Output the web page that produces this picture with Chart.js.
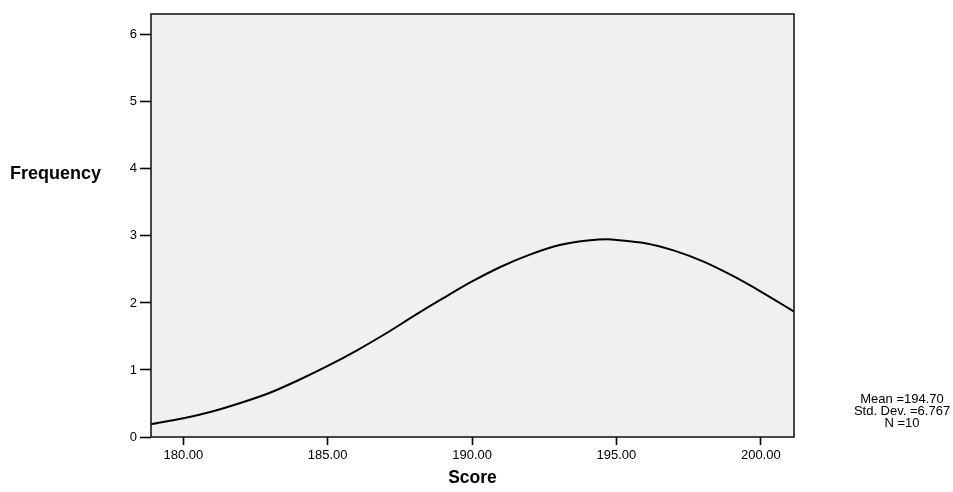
<!DOCTYPE html>
<html>
<head>
<meta charset="utf-8">
<script src="https://cdn.jsdelivr.net/npm/chart.js@4.4.1/dist/chart.umd.min.js"></script>
<style>
  html, body { margin: 0; padding: 0; background: #fff; }
  #wrap { width: 953px; height: 492px; }
</style>
</head>
<body>
<div id="wrap"><canvas id="chart"></canvas></div>
<script>
// normal curve (score -> frequency)
const scores = [178.88, 180, 181, 182, 183, 184, 185, 186, 187, 188, 189, 190,
  191, 192, 193, 194, 194.7, 195, 196, 197, 198, 199, 200, 201, 201.15];
const frequency = [0.19, 0.28, 0.38, 0.51, 0.66, 0.85, 1.06, 1.29, 1.54, 1.81, 2.07, 2.32,
  2.54, 2.72, 2.86, 2.93, 2.95, 2.94, 2.89, 2.78, 2.62, 2.41, 2.17, 1.91, 1.87];

const xTicks = [180, 185, 190, 195, 200];
const yTicks = [0, 1, 2, 3, 4, 5, 6];
const statLines = ['Mean =194.70', 'Std. Dev. =6.767', 'N =10'];

const FONT = '"Liberation Sans", Arial, sans-serif';

const framePlugin = {
  id: 'frame',
  beforeDraw(chart) {
    const { ctx, chartArea: a } = chart;
    ctx.save();
    ctx.fillStyle = '#f0f0f0';
    ctx.fillRect(a.left, a.top, a.right - a.left, a.bottom - a.top);
    ctx.restore();
  },
  afterDraw(chart) {
    const { ctx, chartArea: a } = chart;
    ctx.save();
    ctx.strokeStyle = '#1a1a1a';
    ctx.lineWidth = 1.6;
    ctx.strokeRect(a.left, a.top, a.right - a.left, a.bottom - a.top);

    ctx.fillStyle = '#000';
    ctx.font = 'bold 18px ' + FONT;
    ctx.textAlign = 'left';
    ctx.textBaseline = 'alphabetic';
    ctx.fillText('Frequency', 10, 179);

    ctx.font = '13px ' + FONT;
    ctx.textAlign = 'center';
    statLines.forEach((t, i) => ctx.fillText(t, 902, 403 + i * 12));
    ctx.restore();
  }
};

new Chart(document.getElementById('chart'), {
  type: 'line',
  data: {
    datasets: [{
      data: scores.map((s, i) => ({ x: s, y: frequency[i] })),
      borderColor: '#000',
      borderWidth: 2,
      pointRadius: 0,
      fill: false,
      cubicInterpolationMode: 'monotone'
    }]
  },
  options: {
    responsive: true,
    maintainAspectRatio: false,
    animation: false,
    layout: { padding: { top: 14, right: 159, left: 0, bottom: 0 } },
    plugins: { legend: { display: false }, tooltip: { enabled: false } },
    scales: {
      x: {
        type: 'linear',
        min: 178.88,
        max: 201.15,
        afterBuildTicks: s => { s.ticks = xTicks.map(v => ({ value: v })); },
        afterFit: s => { s.height = 55; },
        border: { display: false },
        grid: { drawOnChartArea: false, drawTicks: true, tickLength: 8, tickColor: '#000', tickWidth: 1.6 },
        ticks: {
          color: '#000',
          padding: 3,
          maxRotation: 0,
          font: { family: FONT, size: 13 },
          callback: v => v.toFixed(2)
        },
        title: {
          display: true,
          text: 'Score',
          color: '#000',
          padding: { top: 0, bottom: 3 },
          font: { family: FONT, size: 17.5, weight: 'bold' }
        }
      },
      y: {
        min: 0,
        max: 6.31,
        afterBuildTicks: s => { s.ticks = yTicks.map(v => ({ value: v })); },
        afterFit: s => { s.width = 151; },
        border: { display: false },
        grid: { drawOnChartArea: false, drawTicks: true, tickLength: 11, tickColor: '#000', tickWidth: 1.6 },
        ticks: {
          color: '#000',
          padding: 3,
          font: { family: FONT, size: 13 },
          callback: v => String(v)
        }
      }
    }
  },
  plugins: [framePlugin]
});
</script>
</body>
</html>
